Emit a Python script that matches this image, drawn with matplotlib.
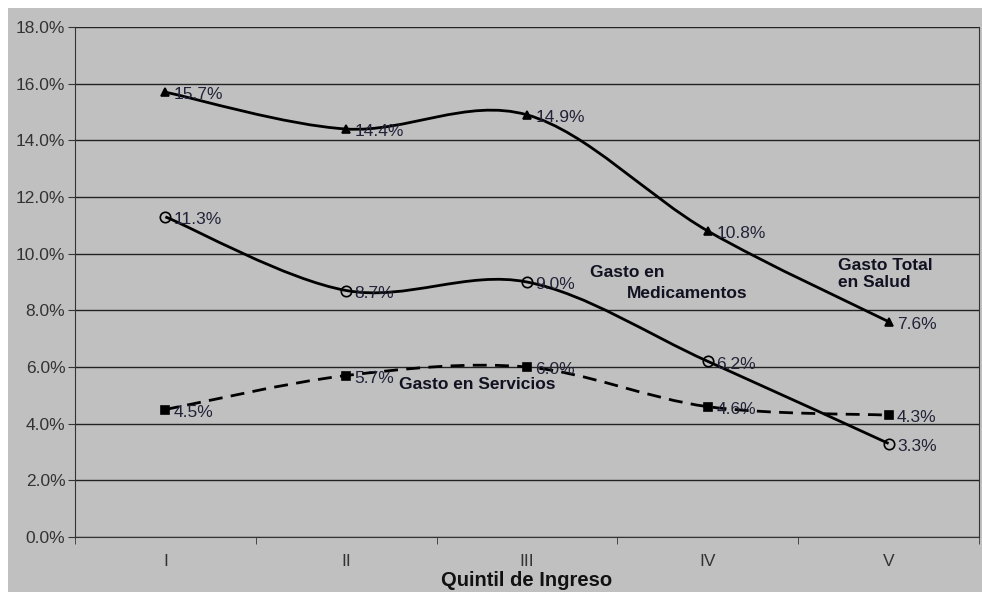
"""
Gasto de bolsillo en salud por quintil de ingreso (lineas suavizadas estilo Excel)
"""
import numpy as np
from matplotlib import pyplot as plt
from matplotlib.axes import Axes
from matplotlib.patches import Rectangle, PathPatch
from matplotlib.path import Path

plt.rcParams['font.family'] = ['Liberation Sans', 'DejaVu Sans']

quintiles: list = ["I", "II", "III", "IV", "V"]
gasto_total: list = [15.7, 14.4, 14.9, 10.8, 7.6]
gasto_medicamentos: list = [11.3, 8.7, 9.0, 6.2, 3.3]
gasto_servicios: list = [4.5, 5.7, 6.0, 4.6, 4.3]

LABEL_COLOR = "#222238"
TEXT_COLOR = "#111122"
BG_GRAY = "#c0c0c0"
FS = 12.5


def smooth_path(xs, ys) -> Path:
    """Bezier path through the points, same idea as Excel's smoothed line"""
    pts = np.column_stack([xs, ys]).astype(float)
    n = len(pts)
    verts = [pts[0]]
    codes = [Path.MOVETO]
    for i in range(n - 1):
        p_prev = pts[i - 1] if i > 0 else pts[i]
        p_next2 = pts[i + 2] if i + 2 < n else pts[i + 1]
        c1 = pts[i] + (pts[i + 1] - p_prev) / 6
        c2 = pts[i + 1] - (p_next2 - pts[i]) / 6
        verts += [c1, c2, pts[i + 1]]
        codes += [Path.CURVE4] * 3
    return Path(verts, codes)


def add_series(ax: Axes, values, marker, ls, mfc, ms):
    xs = np.arange(len(values))
    patch = PathPatch(smooth_path(xs, values), fill=False, edgecolor="black",
                      lw=2, linestyle=ls, zorder=3, capstyle="butt")
    ax.add_patch(patch)
    ax.plot(xs, values, linestyle="none", marker=marker, ms=ms,
            mfc=mfc, mec="black", mew=1.2, zorder=4)
    for x, v in zip(xs, values):
        ax.annotate(f"{v:.1f}%", (x, v), xytext=(6, -2), textcoords="offset points",
                    ha="left", va="center", fontsize=FS, color=LABEL_COLOR, zorder=5)


fig = plt.figure(figsize=(9.82, 5.92), dpi=100)
fig.patch.set_facecolor("white")
fig.add_artist(Rectangle((8 / 982, 0), 1, 1 - 8 / 592, transform=fig.transFigure,
                         facecolor=BG_GRAY, edgecolor="none", zorder=0))

ax = fig.add_axes([75 / 982, (592 - 537) / 592, (979 - 75) / 982, (537 - 27) / 592])
ax.set_facecolor(BG_GRAY)

add_series(ax, gasto_total, "^", "-", "black", 6)
add_series(ax, gasto_medicamentos, "o", "-", "none", 7.5)
add_series(ax, gasto_servicios, "s", (0, (5, 3)), "black", 5.5)

ax.set_xlim(-0.5, len(quintiles) - 0.5)
ax.set_ylim(0, 18)
ax.set_yticks(np.arange(0, 18.1, 2))
ax.set_yticklabels([f"{t:.1f}%" for t in np.arange(0, 18.1, 2)])
ax.yaxis.grid(True, color="#222222", lw=1)
ax.set_axisbelow(True)

ax.set_xticks(np.arange(len(quintiles)))
ax.set_xticklabels(quintiles)
ax.set_xticks(np.arange(len(quintiles) + 1) - 0.5, minor=True)
ax.tick_params(axis="x", which="major", length=0, pad=12, labelsize=FS, labelcolor="#333333")
ax.tick_params(axis="x", which="minor", length=5, direction="out", color="#333333")
ax.tick_params(axis="y", length=5, direction="out", labelsize=FS, labelcolor="#333333",
               color="#333333", pad=2)

for side in ["left", "bottom", "right"]:
    ax.spines[side].set_color("#333333")
ax.spines["top"].set_visible(False)

ax.set_xlabel("Quintil de Ingreso", fontsize=14.5, fontweight="bold", color="#111111", labelpad=2)

ax.text(2.35, 9.35, "Gasto en", fontsize=FS, fontweight="bold", color=TEXT_COLOR, va="center")
ax.text(2.55, 8.58, "Medicamentos", fontsize=FS, fontweight="bold", color=TEXT_COLOR, va="center")
ax.text(3.72, 9.6, "Gasto Total", fontsize=FS, fontweight="bold", color=TEXT_COLOR, va="center")
ax.text(3.72, 8.97, "en Salud", fontsize=FS, fontweight="bold", color=TEXT_COLOR, va="center")
ax.text(1.29, 5.37, "Gasto en Servicios", fontsize=FS, fontweight="bold", color=TEXT_COLOR,
        va="center")

plt.savefig("out.png", dpi=100)
